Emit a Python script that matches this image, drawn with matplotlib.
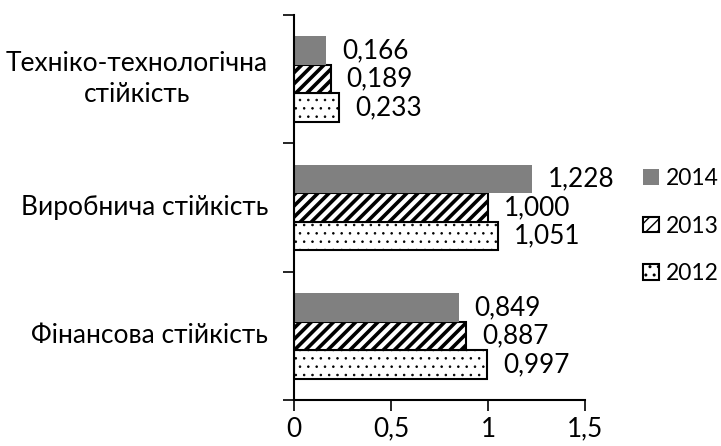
import matplotlib
matplotlib.use("Agg")
import matplotlib.pyplot as plt
import matplotlib.transforms as mtransforms
import numpy as np

categories = ["Фінансова стійкість", "Виробнича стійкість", "Техніко-технологічна\nстійкість"]
years = ["2012", "2013", "2014"]
values_2012 = [0.997, 1.051, 0.233]
values_2013 = [0.887, 1.000, 0.189]
values_2014 = [0.849, 1.228, 0.166]
x_ticks = [0, 0.5, 1, 1.5]
x_tick_labels = ["0", "0,5", "1", "1,5"]

plt.rcParams['font.family'] = ['Lato', 'DejaVu Sans']
FS_CAT = 19.0
FS_VAL = 18.8
FS_LEG = 16.5

fig = plt.figure(figsize=(7.21, 4.46), dpi=100)
ax = fig.add_axes([294 / 721, 1 - 400 / 446, 291 / 721, 385 / 446])

h = 0.222
y = np.arange(len(categories))
styles = [
    dict(facecolor="white", edgecolor="black", hatch="..", linewidth=1.5),
    dict(facecolor="white", edgecolor="black", hatch="///", linewidth=1.5),
    dict(facecolor="#808080", edgecolor="none", linewidth=0),
]
hatch_lw = [0.6, 2.6, 1.0]
series = [values_2012, values_2013, values_2014]
offsets = [-h, 0, h]
handles = []
for vals, st, off, yr, hl in zip(series, styles, offsets, years, hatch_lw):
    plt.rcParams['hatch.linewidth'] = hl
    b = ax.barh(y + off, vals, height=h, label=yr, **st)
    handles.append(b)
    for yi, v in zip(y, vals):
        ax.text(v + 0.082, yi + off, f"{v:.3f}".replace(".", ","), va="center", ha="left", fontsize=FS_VAL)

ax.set_xlim(0, 1.5)
ax.set_ylim(-0.5, 2.5)
ax.set_xticks(x_ticks)
ax.set_xticklabels(x_tick_labels, fontsize=FS_VAL)
ax.set_yticks([-0.5, 0.5, 1.5, 2.5])
ax.set_yticklabels([])
trans = mtransforms.blended_transform_factory(fig.transFigure, ax.transData)
for yi, c in zip(y, categories):
    ax.text(268 / 721, yi, c, transform=trans, ha="right", va="center",
            multialignment="center", fontsize=FS_CAT, linespacing=1.3)
ax.tick_params(axis="y", which="major", length=8, width=1.2, direction="out")
ax.tick_params(axis="x", length=8, width=1.2, direction="out", pad=4)
for s in ["top", "right"]:
    ax.spines[s].set_visible(False)
for s in ["left", "bottom"]:
    ax.spines[s].set_linewidth(1.5)

leg = fig.legend(handles[::-1], years[::-1], loc="center left",
                 bbox_to_anchor=(643 / 721, 1 - 226 / 446),
                 frameon=False, fontsize=FS_LEG, handlelength=0.68, handleheight=0.68,
                 handletextpad=0.3, labelspacing=1.15, borderaxespad=0, borderpad=0)

fig.savefig("out.png", dpi=100)
